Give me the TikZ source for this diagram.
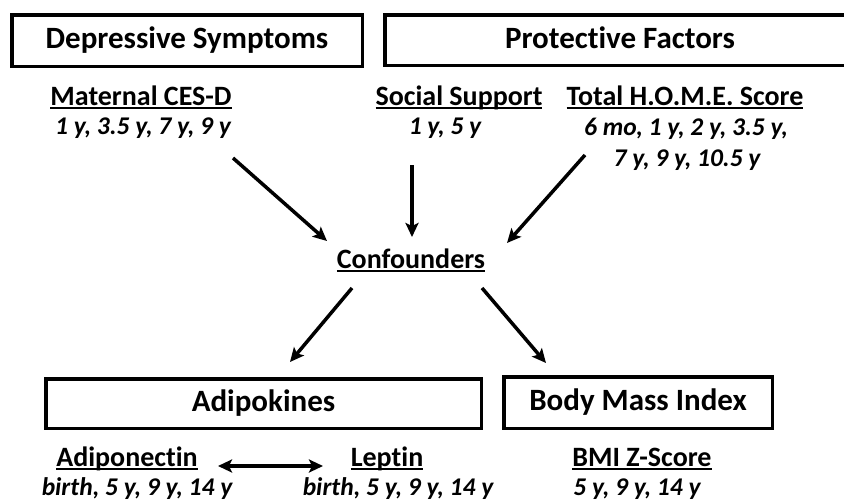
\documentclass[tikz,border=0pt]{standalone}
\usepackage{fontspec}
\setmainfont{Carlito}[Ligatures=NoCommon]
\usetikzlibrary{arrows.meta,positioning}

\newcommand{\hdrfont}{\fontsize{31}{36}\selectfont\bfseries}
\newcommand{\varfont}{\fontsize{28}{32}\selectfont\bfseries}
\newcommand{\timefont}{\fontsize{25.5}{30}\selectfont\bfseries\itshape}
\newcommand{\undr}[1]{\setbox0=\hbox{#1}\rlap{\vrule width\wd0 height -2pt depth 4.2pt}\box0}

\tikzset{
  hdrbox/.style={rectangle, draw, line width=3.5pt, inner sep=0pt, text height=22pt, text depth=6pt, font=\hdrfont},
  vartitle/.style={anchor=base, inner sep=1pt, font=\varfont},
  vartime/.style={anchor=base, inner sep=1pt, font=\timefont},
  flow/.style={-{Stealth[length=14pt,width=13pt,inset=3pt]}, line width=3.5pt},
  bothflow/.style={{Stealth[length=14pt,width=13pt,inset=3pt]}-{Stealth[length=14pt,width=13pt,inset=3pt]}, line width=3.5pt},
}

\begin{document}
\begin{tikzpicture}[x=1pt, y=-1pt]
    \clip (0,0) rectangle (844,501);

    % header boxes
    \node (depress) [hdrbox, minimum width=350.5pt, minimum height=51.5pt] at (187,40.5) {Depressive Symptoms};
    \node (protect) [hdrbox, minimum width=470pt, minimum height=50.5pt] at (620,40) {Protective Factors};
    \node (adipo) [hdrbox, minimum width=435.5pt, minimum height=49.5pt] at (263.5,403.5) {Adipokines};
    \node (bmi) [hdrbox, minimum width=268.5pt, minimum height=51.5pt] at (638,402.5) {Body Mass Index};

    % measures
    \node (cesd) [vartitle] at (141,105) {\undr{Maternal CES-D}};
    \node (cesdt) [vartime] at (143,134) {1 y, 3.5 y, 7 y, 9 y};
    \node (social) [vartitle] at (459,105) {\undr{Social Support}};
    \node (socialt) [vartime] at (445,134) {1 y, 5 y};
    \node (home) [vartitle] at (685,105) {\undr{Total H.O.M.E. Score}};
    \node (homet) [vartime] at (686,135) {6 mo, 1 y, 2 y, 3.5 y,};
    \node (homett) [vartime] at (687,166) {7 y, 9 y, 10.5 y};
    \node (conf) [vartitle] at (411,268) {\undr{Confounders}};
    \node (adipon) [vartitle] at (127,466) {\undr{Adiponectin}};
    \node (adipont) [vartime] at (137,495) {birth, 5 y, 9 y, 14 y};
    \node (leptin) [vartitle] at (387,466) {\undr{Leptin}};
    \node (leptint) [vartime] at (398,495) {birth, 5 y, 9 y, 14 y};
    \node (bmiz) [vartitle] at (642,466) {\undr{BMI Z-Score}};
    \node (bmizt) [vartime] at (637,495) {5 y, 9 y, 14 y};

    % arrows
    \draw[flow] ([shift={(90,24)}]cesdt.base) -- ([shift={(-84,-27)}]conf.base);
    \draw[flow] ([shift={(-33,31)}]socialt.base) -- ([shift={(1,-31)}]conf.base);
    \draw[flow] ([shift={(-102,-11)}]homett.base) -- ([shift={(96,-25)}]conf.base);
    \draw[flow] ([shift={(-59,20)}]conf.base) -- ([shift={(26.5,-41.5)}]adipo.center);
    \draw[flow] ([shift={(71,20)}]conf.base) -- ([shift={(-92,-39.5)}]bmi.center);
    \draw[bothflow] ([shift={(91,0)}]adipon.base) -- ([shift={(-64,0)}]leptin.base);
\end{tikzpicture}
\end{document}
